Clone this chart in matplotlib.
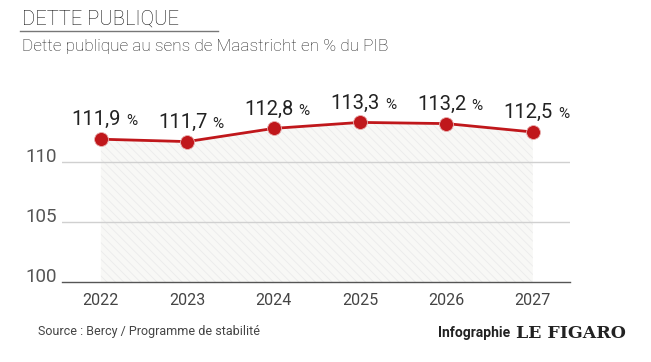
import matplotlib.pyplot as plt

years = [2022, 2023, 2024, 2025, 2026, 2027]
debt = [111.9, 111.7, 112.8, 113.3, 113.2, 112.5]
labels = ["111,9", "111,7", "112,8", "113,3", "113,2", "112,5"]
yticks = [100, 105, 110]

red = '#c0171b'
plt.rcParams['font.family'] = ['Roboto', 'DejaVu Sans']
plt.rcParams['hatch.linewidth'] = 0.6

fig = plt.figure(figsize=(6.51, 3.62), dpi=100)
ax = fig.add_axes([62 / 651, 80 / 362, 508 / 651, 192 / 362])
ax.set_xlim(2021.55, 2027.43)
ax.set_ylim(100, 116)

# hatched area under the curve
ax.fill_between(years, debt, 100, facecolor='#f8f8f6', edgecolor='#ebebeb',
                hatch='\\\\\\\\', linewidth=0, zorder=1)

for y in yticks[1:]:
    ax.axhline(y, color='#d0d0d0', linewidth=1, zorder=2)

ax.plot(years, debt, color=red, linewidth=2, marker='o', markersize=10,
        markeredgecolor='#e8b0b0', markeredgewidth=0.6, zorder=4)

for x, v, lab in zip(years, debt, labels):
    ax.annotate(lab, (x, v), xytext=(14.4, 10), textcoords='offset points',
                ha='right', va='baseline', fontsize=14.5, color='#222222')
    ax.annotate('%', (x, v), xytext=(18, 10), textcoords='offset points',
                ha='left', va='baseline', fontsize=11, color='#222222')

for s in ['top', 'right', 'left']:
    ax.spines[s].set_visible(False)
ax.spines['bottom'].set_color('#555555')
ax.spines['bottom'].set_linewidth(1)

ax.set_yticks(yticks)
ax.set_yticklabels([str(t) for t in yticks], fontsize=13.5, color='#555555')
for t in ax.get_yticklabels():
    t.set_va('baseline')
ax.set_xticks(years)
ax.set_xticklabels([str(t) for t in years], fontsize=11.5, color='#444444')
ax.tick_params(axis='both', length=0)
ax.tick_params(axis='y', pad=4)
ax.tick_params(axis='x', pad=8)

fig.text(22 / 651, 1 - 19 / 362, 'DETTE PUBLIQUE', fontsize=14.5, color='#111111',
         fontweight='light', va='center', ha='left')
fig.add_artist(plt.Line2D([20 / 651, 218 / 651], [1 - 31 / 362, 1 - 31 / 362],
                          color='#777777', linewidth=1))
fig.text(22 / 651, 1 - 47 / 362, 'Dette publique au sens de Maastricht en % du PIB',
         fontsize=12.4, color='#222222', fontweight='light', va='center', ha='left')

fig.text(38 / 651, 1 - 332 / 362, 'Source : Bercy / Programme de stabilité',
         fontsize=9, color='#444444', va='center', ha='left')
fig.text(510 / 651, 1 - 333 / 362, 'Infographie', fontsize=10, color='#222222',
         fontweight='bold', va='center', ha='right')
fig.text(516 / 651, 1 - 333 / 362, 'LE FIGARO', fontsize=12.5, color='#222222',
         fontweight='bold', family='DejaVu Serif', va='center', ha='left')

fig.savefig('out.png', dpi=100, facecolor='white')
